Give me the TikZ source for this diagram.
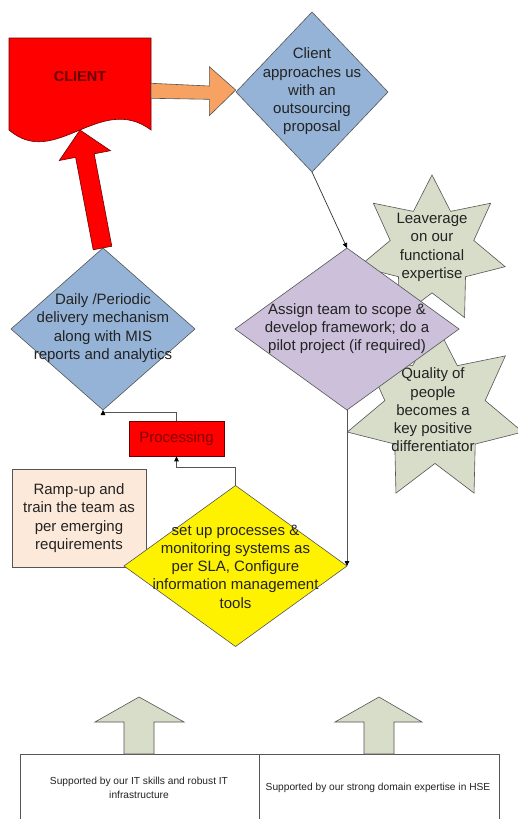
\documentclass[tikz,border=0pt]{standalone}
\usepackage{fontspec}
\setmainfont{Liberation Sans}
\usetikzlibrary{shapes.geometric,arrows.meta,calc}
\definecolor{dblue}{RGB}{149,179,215}
\definecolor{dpurp}{RGB}{204,192,218}
\definecolor{sgreen}{RGB}{215,221,200}
\definecolor{peach}{RGB}{253,233,217}
\definecolor{orng}{RGB}{247,162,98}
\definecolor{dred}{RGB}{105,0,0}
\definecolor{lgrey}{RGB}{85,85,85}
\definecolor{txt}{RGB}{35,35,35}
\begin{document}
\begin{tikzpicture}[x=1pt,y=-1pt,
  diam/.style={diamond, draw=lgrey, line width=0.6pt, inner sep=0pt, outer sep=0pt},
  body/.style={font=\fontsize{15}{18.3}\selectfont, text=txt, align=center, inner sep=0pt},
  small/.style={font=\fontsize{10.2}{14}\selectfont, text=txt, align=center, inner sep=0pt},
  starbox/.style={star, star points=7, star point ratio=1.75, fill=sgreen, draw=lgrey, line width=0.6pt, inner sep=0pt, outer sep=0pt},
  conn/.style={draw=lgrey, line width=0.8pt, -{Triangle[length=5pt,width=4.5pt,color=black]}},
  blockarrow/.style={draw=lgrey, line width=0.6pt}
]
\useasboundingbox (0,0) rectangle (518,819);
\clip (0,0) rectangle (518,819);
\fill[white] (0,0) rectangle (518,819);

% CLIENT document shape
\draw[fill=red, draw=dred, line width=0.6pt] (9,38) -- (151,38) -- (151,130)
  .. controls (100,92) and (55,170) .. (9,130) -- cycle;
\node[font=\fontsize{14.5}{17}\selectfont\bfseries, text=dred] (client) at (80,77) {CLIENT};
\coordinate (cw) at (80,130);

% orange block arrow
\draw[blockarrow, fill=orng] (151,83.3) -- (209.3,86) -- (209.3,66.7) -- (235.7,90)
  -- (209.3,115.7) -- (209.3,99.3) -- (151,98.3) -- cycle;

% stars (behind purple diamond)
\node[starbox, minimum size=150pt] (s1) at (432,250) {};
\node[body] (s1t) at (432,247.5) {Leaverage\\on our\\functional\\expertise};
\node[starbox, minimum size=180pt] (s2) at (435,412) {};
\node[body] (s2t) at (433,410) {Quality of\\people\\becomes a\\key positive\\differentiator};

% diamonds
\node[diam, fill=dblue, minimum width=152pt, minimum height=160pt] (d1) at (312,92) {};
\node[body] (d1t) at (312,91.5) {Client\\approaches us\\with an\\outsourcing\\proposal};

\node[diam, fill=dpurp, minimum width=224pt, minimum height=162pt] (d2) at (347,329) {};
\node[body] (d2t) at (347,328.7) {Assign team to scope \&\\develop framework; do a\\pilot project (if required)};

\node[diam, fill=dblue, minimum width=184pt, minimum height=162pt] (d4) at (103,329) {};
\node[body] (d4t) at (103,328) {Daily /Periodic\\delivery mechanism\\along with MIS\\reports and analytics};

% ramp-up box
\node[draw=lgrey, line width=0.6pt, fill=peach, minimum width=134pt, minimum height=98pt, inner sep=0pt, body] (ramp) at (79,518) {Ramp-up and\\train the team as\\per emerging\\requirements};

% yellow diamond
\node[diam, fill=yellow, minimum width=223pt, minimum height=161pt] (d3) at (235.5,566) {};
\node[body] (d3t) at (235.5,566.5) {set up processes \&\\monitoring systems as\\per SLA, Configure\\information management\\tools};

% processing
\node[draw=dred, line width=0.6pt, fill=red, minimum width=95pt, minimum height=35pt, inner sep=0pt,
  font=\fontsize{15}{18}\selectfont, text={rgb,255:red,130;green,0;blue,0}] (proc) at (176.5,438.5) {Processing};

% red block arrow to CLIENT
\draw[fill=red, draw=dred, line width=0.6pt] (93.2,249.8) -- (75.6,157.4) -- (59.3,160.5) -- (cw)
  -- (110.5,150.7) -- (94.2,153.8) -- (111.8,246.2) -- cycle;

% connectors
\draw[draw={rgb,255:red,50;green,50;blue,50}, line width=0.7pt, -{Triangle[length=5pt,width=4.5pt,color=black]}] (d1.south) -- (d2.north);
\draw[conn] (d2.south) -- (d3.east);
\draw[conn] (d3.north) -- ++(0,-18) -| (proc.south);
\draw[conn] (proc.north) -- ++(0,-8) -| (d4.south);

% bottom boxes
\node[draw=lgrey, line width=0.7pt, minimum width=239pt, minimum height=68pt, inner sep=0pt] (b1) at (139.5,788) {};
\node[draw=lgrey, line width=0.7pt, minimum width=240pt, minimum height=68pt, inner sep=0pt] (b2) at (379,788) {};
\node[small] (b1t) at (139,788) {Supported by our IT skills and robust IT\\infrastructure};
\node[small] (b2t) at (378,788) {Supported by our strong domain expertise in HSE};

% bottom block arrows
\draw[blockarrow, fill=sgreen] (124,754) -- (124,722) -- (95,722) -- (139,697) -- (184,722) -- (154,722) -- (154,754) -- cycle;
\draw[blockarrow, fill=sgreen] (364,754) -- (364,722) -- (335,722) -- (379,697) -- (422,722) -- (394,722) -- (394,754) -- cycle;
\end{tikzpicture}
\end{document}
